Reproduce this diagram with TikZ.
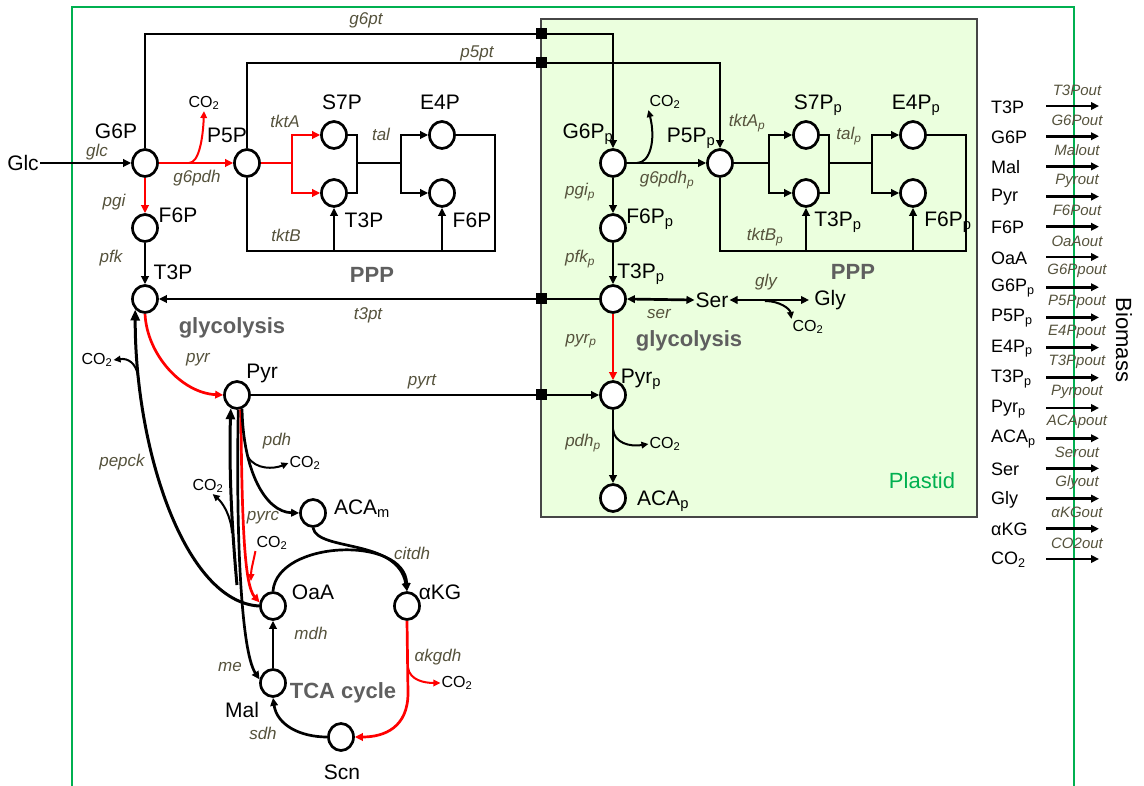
\documentclass[tikz,border=0pt]{standalone}
\usepackage{fontspec}
\setmainfont{Liberation Sans}
\usetikzlibrary{arrows.meta,shapes.geometric}
\definecolor{rxncol}{RGB}{85,82,60}
\definecolor{grpcol}{RGB}{95,95,95}
\definecolor{framegreen}{RGB}{0,176,80}
\definecolor{plastfill}{RGB}{235,255,222}
\definecolor{plastdraw}{RGB}{70,70,70}
\newcommand{\sbp}{\textsubscript{p}}
\newcommand{\cotwo}{CO\textsubscript{2}}
\tikzset{
 met/.style={ellipse, draw, line width=2.7pt, fill=white, minimum width=25pt, minimum height=27pt, inner sep=0pt},
 lab/.style={font=\fontsize{21}{23}\selectfont, inner sep=1pt},
 rxn/.style={font=\fontsize{17}{19}\selectfont\itshape, text=rxncol, inner sep=1pt},
 grp/.style={font=\fontsize{22}{24}\selectfont\bfseries, text=grpcol},
 colab/.style={font=\fontsize{16}{18}\selectfont, inner sep=1pt},
 bio/.style={font=\fontsize{18}{20}\selectfont, inner sep=1pt},
 bout/.style={font=\fontsize{15}{17}\selectfont\itshape, text=rxncol, inner sep=0pt},
 pline/.style={line width=2.7pt},
 flux/.style={line width=2.7pt, -{Triangle[length=8pt,width=7.5pt]}},
 rline/.style={pline, red},
 rflux/.style={flux, red},
 cobr/.style={line width=2pt, -{Triangle[length=7pt,width=6.5pt]}},
 rcobr/.style={cobr, red},
 bigflux/.style={line width=3pt, -{Triangle[length=11pt,width=9pt]}},
 dflux/.style={line width=2.7pt, {Triangle[length=8pt,width=7.5pt]}-{Triangle[length=8pt,width=7.5pt]}},
}
\begin{document}
\begin{tikzpicture}[x=1pt,y=-1pt]
\useasboundingbox (0,0) rectangle (1144,786);
% compartments
\draw[plastdraw, fill=plastfill, line width=1.4pt] (541,19) rectangle (977,517);
\draw[framegreen, line width=2.6pt] (72,792) -- (72,7) -- (1074,7) -- (1074,792);
\node[font=\fontsize{22}{24}\selectfont, text=framegreen] (plastid) at (922,481) {Plastid};

% ---------- cytosol metabolites
\node[met] (G6P) at (145,163) {};
\node[met] (P5P) at (247,163) {};
\node[met] (S7P) at (334,135) {};
\node[met] (T3Pa) at (334,193) {};
\node[met] (E4P) at (442,135) {};
\node[met] (F6Pa) at (442,193) {};
\node[met] (F6P) at (145,228) {};
\node[met] (T3P) at (145,299) {};
\node[met] (Pyr) at (237,395) {};
\node[met] (ACAm) at (313,513) {};
\node[met] (OaA) at (273,606) {};
\node[met] (aKG) at (407,606) {};
\node[met] (Mal) at (273,683) {};
\node[met] (Scn) at (341,737) {};
% ---------- plastid metabolites
\node[met] (G6Pp) at (613,163) {};
\node[met] (P5Pp) at (720,163) {};
\node[met] (S7Pp) at (806,135) {};
\node[met] (T3Ppa) at (806,193) {};
\node[met] (E4Pp) at (913,135) {};
\node[met] (F6Ppa) at (913,193) {};
\node[met] (F6Pp) at (613,228) {};
\node[met] (T3Pp) at (613,299) {};
\node[met] (Pyrp) at (613,395) {};
\node[met] (ACAp) at (613,498) {};
\node[lab] (Ser) at (712,300) {Ser};
\node[lab, inner sep=5pt] (Gly) at (830,300) {Gly};
\node[lab] (Glc) at (23,163) {Glc};

% metabolite labels
\node[lab] (lG6P) at (116,131) {G6P};
\node[lab] (lP5P) at (227,135) {P5P};
\node[lab] (lS7P) at (342,102) {S7P};
\node[lab] (lE4P) at (440,102) {E4P};
\node[lab] (lT3Pa) at (364,220) {T3P};
\node[lab] (lF6Pa) at (472,220) {F6P};
\node[lab] (lF6P) at (178,215) {F6P};
\node[lab] (lT3P) at (173,272) {T3P};
\node[lab] (lPyr) at (262,373) {Pyr};
\node[lab] (lACAm) at (362,509) {ACA\textsubscript{m}};
\node[lab] (lOaA) at (313,592) {OaA};
\node[lab] (laKG) at (440,592) {αKG};
\node[lab] (lMal) at (242,710) {Mal};
\node[lab] (lScn) at (342,772) {Scn};
\node[lab] (lG6Pp) at (588,134) {G6P\sbp};
\node[lab] (lP5Pp) at (691,138) {P5P\sbp};
\node[lab] (lS7Pp) at (818,105) {S7P\sbp};
\node[lab] (lE4Pp) at (916,105) {E4P\sbp};
\node[lab] (lT3Ppa) at (838,222) {T3P\sbp};
\node[lab] (lF6Ppa) at (948,222) {F6P\sbp};
\node[lab] (lF6Pp) at (650,219) {F6P\sbp};
\node[lab] (lT3Pp) at (641,274) {T3P\sbp};
\node[lab] (lPyrp) at (641,379) {Pyr\sbp};
\node[lab] (lACAp) at (663,501) {ACA\sbp};

% group labels
\node[grp] (gPPP) at (372,275) {PPP};
\node[grp] (gPPPp) at (853,272) {PPP};
\node[grp] (gGly) at (232,328) {glycolysis};
\node[grp] (gGlyp) at (689,341) {glycolysis};
\node[grp] (gTCA) at (343,693) {TCA cycle};

% CO2 labels
\node[colab] (c1) at (204,103) {\cotwo};
\node[colab] (c2) at (665,102) {\cotwo};
\node[colab] (cgl) at (808,327) {\cotwo};
\node[colab] (cpp) at (665,444) {\cotwo};
\node[colab] (cpep) at (97,360) {\cotwo};
\node[colab] (cpd) at (305,463) {\cotwo};
\node[colab] (cme) at (208,486) {\cotwo};
\node[colab] (cpc) at (272,543) {\cotwo};
\node[colab] (cak) at (457,683) {\cotwo};

% reaction labels
\node[rxn] at (97,152) {glc};
\node[rxn] at (366,20) {g6pt};
\node[rxn] at (477,53) {p5pt};
\node[rxn] at (197,178) {g6pdh};
\node[rxn] at (114,202) {pgi};
\node[rxn] at (111,258) {pfk};
\node[rxn] at (285,121) {tktA};
\node[rxn] at (381,134) {tal};
\node[rxn] at (286,235) {tktB};
\node[rxn] at (368,315) {t3pt};
\node[rxn] at (198,360) {pyr};
\node[rxn] at (122,462) {pepck};
\node[rxn] at (422,382) {pyrt};
\node[rxn] at (277,441) {pdh};
\node[rxn] at (263,518) {pyrc};
\node[rxn] at (412,553) {citdh};
\node[rxn] at (311,633) {mdh};
\node[rxn] at (230,667) {me};
\node[rxn] at (438,657) {αkgdh};
\node[rxn] at (263,733) {sdh};
\node[rxn] at (667,180) {g6pdh\sbp};
\node[rxn] at (747,123) {tktA\sbp};
\node[rxn] at (849,136) {tal\sbp};
\node[rxn] at (765,237) {tktB\sbp};
\node[rxn] at (580,192) {pgi\sbp};
\node[rxn] at (580,259) {pfk\sbp};
\node[rxn] at (659,314) {ser};
\node[rxn] at (766,282) {gly};
\node[rxn] at (581,341) {pyr\sbp};
\node[rxn] at (583,443) {pdh\sbp};

% transport squares (coordinates)
\coordinate (sqA) at (541,34);
\coordinate (sqB) at (541,63);
\coordinate (sqC) at (541,299);
\coordinate (sqD) at (541,395);

% ---------- cytosol reactions
\draw[flux] (Glc.east) -- (G6P.west);
\draw[pline] (G6P.north) |- (sqA);
\draw[flux] (sqA) -| (G6Pp.north);
\draw[pline] (P5P.north) |- (sqB);
\draw[flux] (sqB) -| (P5Pp.north);
\draw[pline] (T3Pp.west) -- (sqC);
\draw[flux] (sqC) -- (T3P.east);
\draw[pline] (Pyr.east) -- (sqD);
\draw[flux] (sqD) -- (Pyrp.west);

\draw[rflux] (G6P.east) -- (P5P.west);
\coordinate (b1) at (189,163);
\draw[rcobr] (b1) .. controls (199,163) and (203,138) .. (c1.south);
\draw[rflux] (G6P.south) -- (F6P.north);
\draw[flux] (F6P.south) -- (T3P.north);

\coordinate (ta) at (292,163);
\draw[rline] (P5P.east) -- (ta);
\draw[rflux] (ta) |- (S7P.west);
\draw[rflux] (ta) |- (T3Pa.west);
\coordinate (tl1) at (357,163);
\coordinate (tl2) at (401,163);
\draw[pline] (S7P.east) -| (tl1);
\draw[pline] (T3Pa.east) -| (tl1);
\draw[pline] (tl1) -- (tl2);
\draw[flux] (tl2) |- (E4P.west);
\draw[flux] (tl2) |- (F6Pa.west);
\coordinate (tb1) at (495,251);
\draw[pline] (E4P.east) -| (tb1) -| (P5P.south);
\draw[flux] (T3Pa.south |- tb1) -- (T3Pa.south);
\draw[flux] (F6Pa.south |- tb1) -- (F6Pa.south);

\draw[rflux] (T3P.south) .. controls (147,355) and (182,393) .. (Pyr.west);
\draw[bigflux] (OaA.west) .. controls (185,602) and (135,450) .. (T3P.south west);
\coordinate (bpep) at (138,376);
\draw[cobr] (bpep) .. controls (136,363) and (128,358) .. (cpep.east);

\draw[flux] (Pyr.275) .. controls (236,520) and (240,650) .. (Mal.165);
\coordinate (me0) at (237,585);
\draw[bigflux] (me0) .. controls (231,520) and (229,460) .. (Pyr.245);
\coordinate (bme) at (232,533);
\draw[cobr] (bme) .. controls (231,516) and (223,503) .. (cme.-60);

\draw[rflux] (Pyr.285) .. controls (242,520) and (244,585) .. (OaA.165);
\coordinate (bpc) at (251,581);
\draw[rcobr] (cpc.south west) .. controls (253,563) and (251,570) .. (bpc);

\draw[flux] (Pyr.290) .. controls (243,470) and (265,512) .. (ACAm.west);
\coordinate (bpd) at (248,457);
\draw[cobr] (bpd) .. controls (256,470) and (274,469) .. (cpd.west);

\draw[flux] (OaA.north) .. controls (277,540) and (405,535) .. (aKG.north);
\draw[flux] (ACAm.south) .. controls (318,552) and (398,538) .. (aKG.north);
\draw[flux] (Mal.north) -- (OaA.south);
\coordinate (ak1) at (408,693);
\draw[rflux] (aKG.south) -- (ak1) .. controls (408,727) and (385,737) .. (Scn.east);
\coordinate (bak) at (408,668);
\draw[rcobr] (bak) .. controls (410,680) and (424,683) .. (cak.west);
\draw[flux] (Scn.west) .. controls (300,737) and (277,725) .. (Mal.south);

% ---------- plastid reactions
\draw[flux] (G6Pp.east) -- (P5Pp.west);
\coordinate (b2) at (637,163);
\draw[cobr] (b2) .. controls (650,163) and (656,140) .. (c2.south west);
\draw[flux] (G6Pp.south) -- (F6Pp.north);
\draw[flux] (F6Pp.south) -- (T3Pp.north);
\coordinate (ta2) at (769,163);
\draw[pline] (P5Pp.east) -- (ta2);
\draw[flux] (ta2) |- (S7Pp.west);
\draw[flux] (ta2) |- (T3Ppa.west);
\coordinate (tl3) at (829,163);
\coordinate (tl4) at (872,163);
\draw[pline] (S7Pp.east) -| (tl3);
\draw[pline] (T3Ppa.east) -| (tl3);
\draw[pline] (tl3) -- (tl4);
\draw[flux] (tl4) |- (E4Pp.west);
\draw[flux] (tl4) |- (F6Ppa.west);
\coordinate (tb2) at (966,251);
\draw[pline] (E4Pp.east) -| (tb2) -| (P5Pp.south);
\draw[flux] (T3Ppa.south |- tb2) -- (T3Ppa.south);
\draw[flux] (F6Ppa.south |- tb2) -- (F6Ppa.south);

\draw[dflux] (T3Pp.east) -- (Ser.west);
\draw[dflux] (Ser.east) -- (Gly.west);
\coordinate (bgl) at (765,301);
\draw[cobr] (bgl) .. controls (780,301) and (790,309) .. (cgl.north west);
\draw[rflux] (T3Pp.south) -- (Pyrp.north);
\draw[flux] (Pyrp.south) -- (ACAp.north);
\coordinate (bpp) at (613,429);
\draw[cobr] (bpp) .. controls (614,443) and (630,447) .. (cpp.west);

% transport squares
\foreach \s in {sqA,sqB,sqC,sqD} \fill (\s) ++(-5.5,-5.5) rectangle ++(11,11);

% ---------- biomass
\foreach \lbl/\out [count=\i from 0] in {T3P/T3Pout, G6P/G6Pout, Mal/Malout, Pyr/Pyrout, F6P/F6Pout, OaA/OaAout, G6P\sbp/G6Ppout, P5P\sbp/P5Ppout, E4P\sbp/E4Ppout, T3P\sbp/T3Ppout, Pyr\sbp/Pyrpout, ACA\sbp/ACApout, Ser/Serout, Gly/Glyout, αKG/αKGout, \cotwo/CO2out} {
  \node[bio, anchor=west] (bm\i) at (990, {107+30.2*\i}) {\lbl};
  \coordinate (bs\i) at (1046, {106+30.2*\i});
  \coordinate (be\i) at (1099, {106+30.2*\i});
  \draw[flux] (bs\i) -- (be\i);
  \node[bout] (bo\i) at (1077, {90+30.2*\i}) {\out};
}
\node[rotate=-90, font=\fontsize{22}{24}\selectfont] (biomass) at (1124,340) {Biomass};
\end{tikzpicture}
\end{document}
